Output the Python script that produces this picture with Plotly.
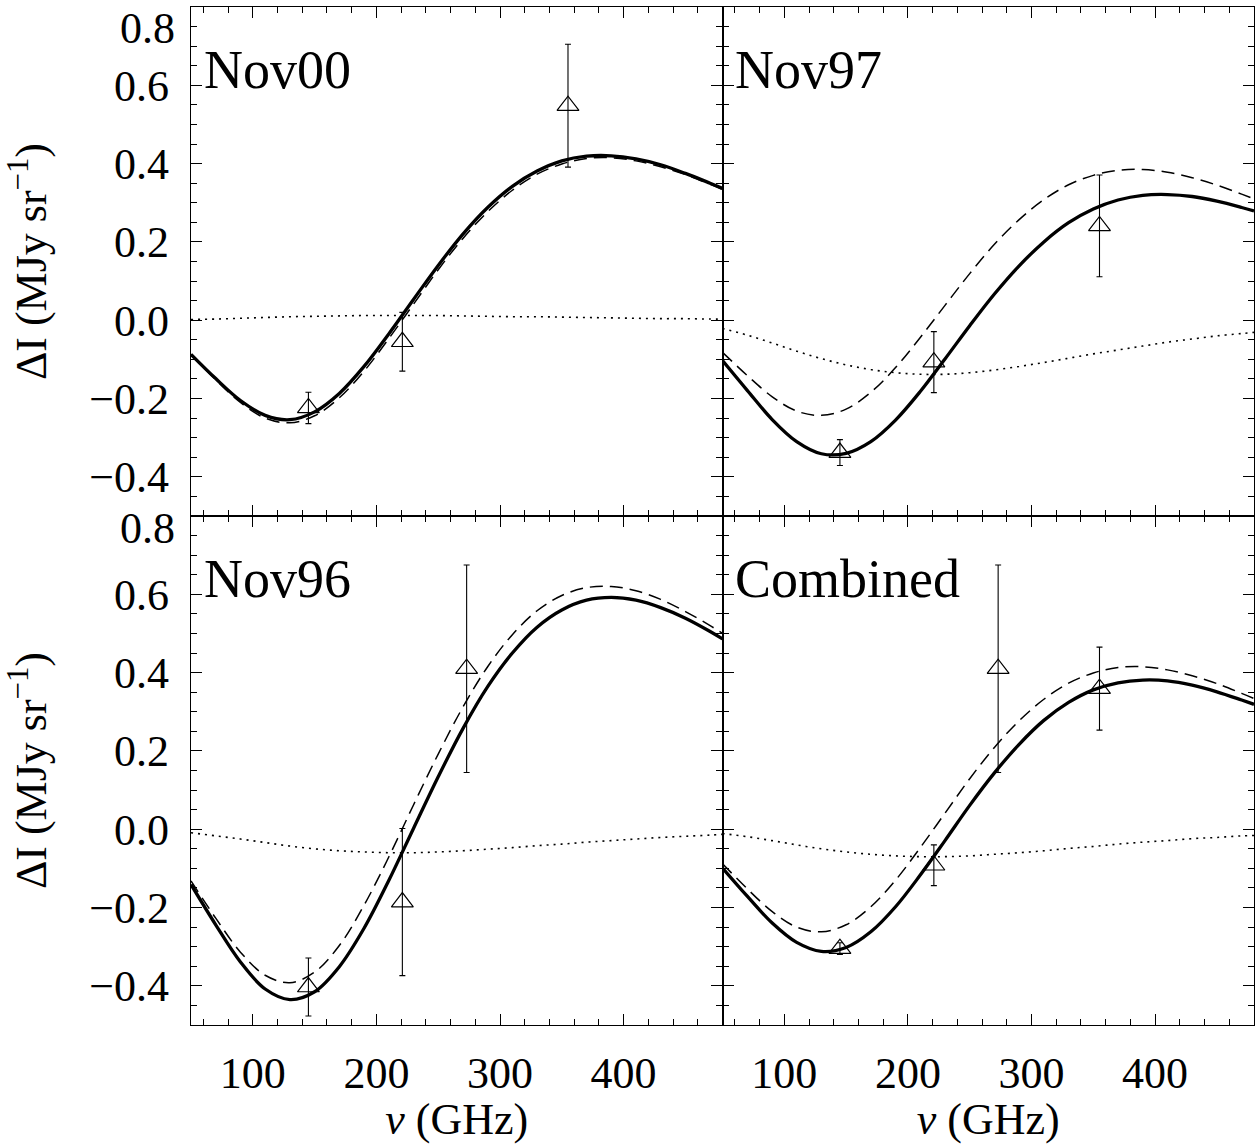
import plotly.graph_objects as go

# ---------------- data ----------------
freq = [50, 70, 90, 110, 130, 150, 170, 190, 210, 230, 250, 270, 290, 310,
        330, 350, 370, 390, 410, 430, 450, 470, 480]

# Nov00
nov00_total = [-0.087, -0.149, -0.205, -0.243, -0.254, -0.234, -0.187, -0.118, -0.035, 0.053, 0.140, 0.220,
               0.288, 0.342, 0.381, 0.407, 0.419, 0.420, 0.412, 0.397, 0.375, 0.350, 0.337]
nov00_thermal = [-0.088, -0.152, -0.210, -0.250, -0.262, -0.244, -0.198, -0.130, -0.047, 0.041, 0.129, 0.209,
                 0.277, 0.332, 0.373, 0.399, 0.413, 0.415, 0.407, 0.392, 0.372, 0.347, 0.334]
nov00_kinetic = [0.002, 0.003, 0.005, 0.007, 0.009, 0.010, 0.011, 0.012, 0.012, 0.012, 0.012, 0.011,
                 0.010, 0.009, 0.009, 0.008, 0.007, 0.006, 0.005, 0.004, 0.004, 0.003, 0.003]
nov00_freq_pts = [145, 221, 355]
nov00_pts = [-0.224, -0.055, 0.548]
nov00_err = [0.040, 0.075, 0.157]

# Nov97
nov97_total = [-0.103, -0.179, -0.253, -0.310, -0.341, -0.340, -0.310, -0.255, -0.182, -0.099, -0.014, 0.067,
               0.139, 0.200, 0.249, 0.284, 0.307, 0.319, 0.321, 0.316, 0.304, 0.288, 0.279]
nov97_thermal = [-0.082, -0.141, -0.195, -0.232, -0.243, -0.227, -0.184, -0.121, -0.044, 0.038, 0.119, 0.194,
                 0.257, 0.308, 0.346, 0.370, 0.383, 0.385, 0.378, 0.364, 0.345, 0.322, 0.310]
nov97_kinetic = [-0.021, -0.038, -0.058, -0.079, -0.098, -0.114, -0.126, -0.134, -0.138, -0.138, -0.134, -0.127,
                 -0.118, -0.108, -0.097, -0.086, -0.076, -0.066, -0.056, -0.048, -0.040, -0.034, -0.031]
nov97_freq_pts = [145, 221, 355]
nov97_pts = [-0.338, -0.107, 0.241]
nov97_err = [0.033, 0.078, 0.130]

# Nov96
nov96_total = [-0.141, -0.244, -0.339, -0.408, -0.435, -0.415, -0.351, -0.253, -0.131, 0.002, 0.134, 0.257,
               0.364, 0.450, 0.516, 0.560, 0.585, 0.592, 0.585, 0.566, 0.539, 0.505, 0.486]
nov96_thermal = [-0.132, -0.227, -0.314, -0.373, -0.392, -0.365, -0.297, -0.194, -0.071, 0.062, 0.192, 0.312,
                 0.415, 0.497, 0.558, 0.597, 0.617, 0.620, 0.609, 0.587, 0.556, 0.520, 0.500]
nov96_kinetic = [-0.009, -0.017, -0.025, -0.034, -0.043, -0.050, -0.055, -0.058, -0.060, -0.060, -0.058, -0.055,
                 -0.051, -0.047, -0.042, -0.038, -0.033, -0.029, -0.025, -0.021, -0.018, -0.015, -0.013]
nov96_freq_pts = [145, 221, 273]
nov96_pts = [-0.403, -0.186, 0.410]
nov96_err = [0.074, 0.188, 0.265]

# Combined
comb_total = [-0.099, -0.171, -0.239, -0.289, -0.312, -0.302, -0.262, -0.198, -0.117, -0.029, 0.061, 0.144,
              0.217, 0.278, 0.324, 0.356, 0.374, 0.381, 0.379, 0.368, 0.351, 0.330, 0.319]
comb_thermal = [-0.088, -0.152, -0.210, -0.250, -0.262, -0.244, -0.198, -0.130, -0.047, 0.041, 0.129, 0.209,
                0.277, 0.332, 0.373, 0.399, 0.413, 0.415, 0.407, 0.392, 0.372, 0.347, 0.334]
comb_kinetic = [-0.011, -0.019, -0.029, -0.040, -0.050, -0.058, -0.064, -0.068, -0.070, -0.070, -0.068, -0.064,
                -0.060, -0.055, -0.049, -0.044, -0.038, -0.033, -0.029, -0.024, -0.021, -0.017, -0.016]
comb_freq_pts = [145, 221, 273, 355]
comb_pts = [-0.305, -0.092, 0.410, 0.359]
comb_err = [0.015, 0.052, 0.265, 0.106]

panel_names = ["Nov00", "Nov97", "Nov96", "Combined"]

x_ticks = [100, 200, 300, 400]
y_ticks = [-0.4, -0.2, 0.0, 0.2, 0.4, 0.6]   # 0.8 label handled separately (top of each row)
y_top_tick = 0.8

# ---------------- figure ----------------
W, H = 1257, 1144
fig = go.Figure()

panels = [
    (nov00_total, nov00_thermal, nov00_kinetic, nov00_freq_pts, nov00_pts, nov00_err),
    (nov97_total, nov97_thermal, nov97_kinetic, nov97_freq_pts, nov97_pts, nov97_err),
    (nov96_total, nov96_thermal, nov96_kinetic, nov96_freq_pts, nov96_pts, nov96_err),
    (comb_total, comb_thermal, comb_kinetic, comb_freq_pts, comb_pts, comb_err),
]

for i, (tot, th, kin, fp, pv, pe) in enumerate(panels):
    n = i + 1
    xa = "x" if n == 1 else f"x{n}"
    ya = "y" if n == 1 else f"y{n}"
    fig.add_trace(go.Scatter(x=freq, y=kin, mode="lines", line=dict(color="black", width=1.6, dash="2px,5px", shape="spline"),
                             xaxis=xa, yaxis=ya, showlegend=False))
    fig.add_trace(go.Scatter(x=freq, y=th, mode="lines", line=dict(color="black", width=1.5, dash="13px,7px", shape="spline"),
                             xaxis=xa, yaxis=ya, showlegend=False))
    fig.add_trace(go.Scatter(x=freq, y=tot, mode="lines", line=dict(color="black", width=3.3, shape="spline"),
                             xaxis=xa, yaxis=ya, showlegend=False))
    fig.add_trace(go.Scatter(x=fp, y=pv, mode="markers",
                             marker=dict(symbol="triangle-up-open", size=19, color="black", line=dict(width=1.2, color="black")),
                             error_y=dict(type="data", array=pe, color="black", thickness=1.1, width=3),
                             xaxis=xa, yaxis=ya, showlegend=False))

FONT = "Liberation Serif"
tickfont = dict(family=FONT, size=44, color="black")
common = dict(showline=True, linecolor="black", linewidth=1.4, mirror="allticks", ticks="inside",
              ticklen=11, tickwidth=1.2, tickcolor="black", showgrid=False, zeroline=False,
              tickfont=tickfont, automargin=False)

def xaxis(domain, anchor, labels):
    d = dict(common)
    d.update(domain=domain, anchor=anchor, range=[50, 480], tickvals=x_ticks,
             ticktext=[str(v) for v in x_ticks], showticklabels=labels,
             minor=dict(ticks="inside", ticklen=6, tickwidth=1, tickcolor="black", dtick=20, tick0=0, showgrid=False),
             ticklabelstandoff=9)
    if labels:
        d["title"] = dict(text="<i>ν</i> (GHz)", font=dict(family=FONT, size=44, color="black"), standoff=25)
    return d

def yaxis(domain, anchor, labels):
    d = dict(common)
    d.update(domain=domain, anchor=anchor, range=[-0.5, 0.8], tickvals=y_ticks,
             ticktext=[f"{v:.1f}".replace("-", "\u2212") for v in y_ticks], showticklabels=labels,
             minor=dict(ticks="inside", ticklen=6, tickwidth=1, tickcolor="black", dtick=0.05, tick0=0, showgrid=False),
             ticklabelstandoff=12)
    if labels:
        d["title"] = dict(text="ΔI (MJy sr<sup>\u22121</sup>)", font=dict(family=FONT, size=44, color="black"), standoff=28)
    return d

fig.update_layout(
    template="none",
    width=W, height=H,
    margin=dict(l=191, r=3, t=7, b=119, autoexpand=False),
    paper_bgcolor="white", plot_bgcolor="white",
    font=dict(family=FONT, color="black"),
    showlegend=False,
    xaxis=xaxis([0, 0.5], "y", False),
    yaxis=yaxis([0.5, 1], "x", True),
    xaxis2=xaxis([0.5, 1], "y2", False),
    yaxis2=yaxis([0.5, 1], "x2", False),
    xaxis3=xaxis([0, 0.5], "y3", True),
    yaxis3=yaxis([0, 0.5], "x3", True),
    xaxis4=xaxis([0.5, 1], "y4", True),
    yaxis4=yaxis([0, 0.5], "x4", False),
)

# the "0.8" tick label of each row sits just below the top edge of the frame
fig.add_annotation(text=f"{y_top_tick:.1f}", xref="paper", yref="y", x=0, y=y_top_tick,
                   xanchor="right", yanchor="top", xshift=-14, yshift=5, showarrow=False,
                   font=tickfont)
fig.add_annotation(text=f"{y_top_tick:.1f}", xref="paper", yref="y3", x=0, y=y_top_tick,
                   xanchor="right", yanchor="middle", xshift=-14, yshift=-12, showarrow=False,
                   font=tickfont)

label_pos = [("x domain", "y domain"), ("x2 domain", "y2 domain"), ("x3 domain", "y3 domain"), ("x4 domain", "y4 domain")]
for name, (xr, yr) in zip(panel_names, label_pos):
    fig.add_annotation(text=name, xref=xr, yref=yr, x=0.02, y=0.876, xanchor="left", yanchor="middle",
                       showarrow=False, font=dict(family=FONT, size=54, color="black"))

fig.write_html("out.html", config={"displayModeBar": False},
               post_script="document.body.style.margin='0';")
